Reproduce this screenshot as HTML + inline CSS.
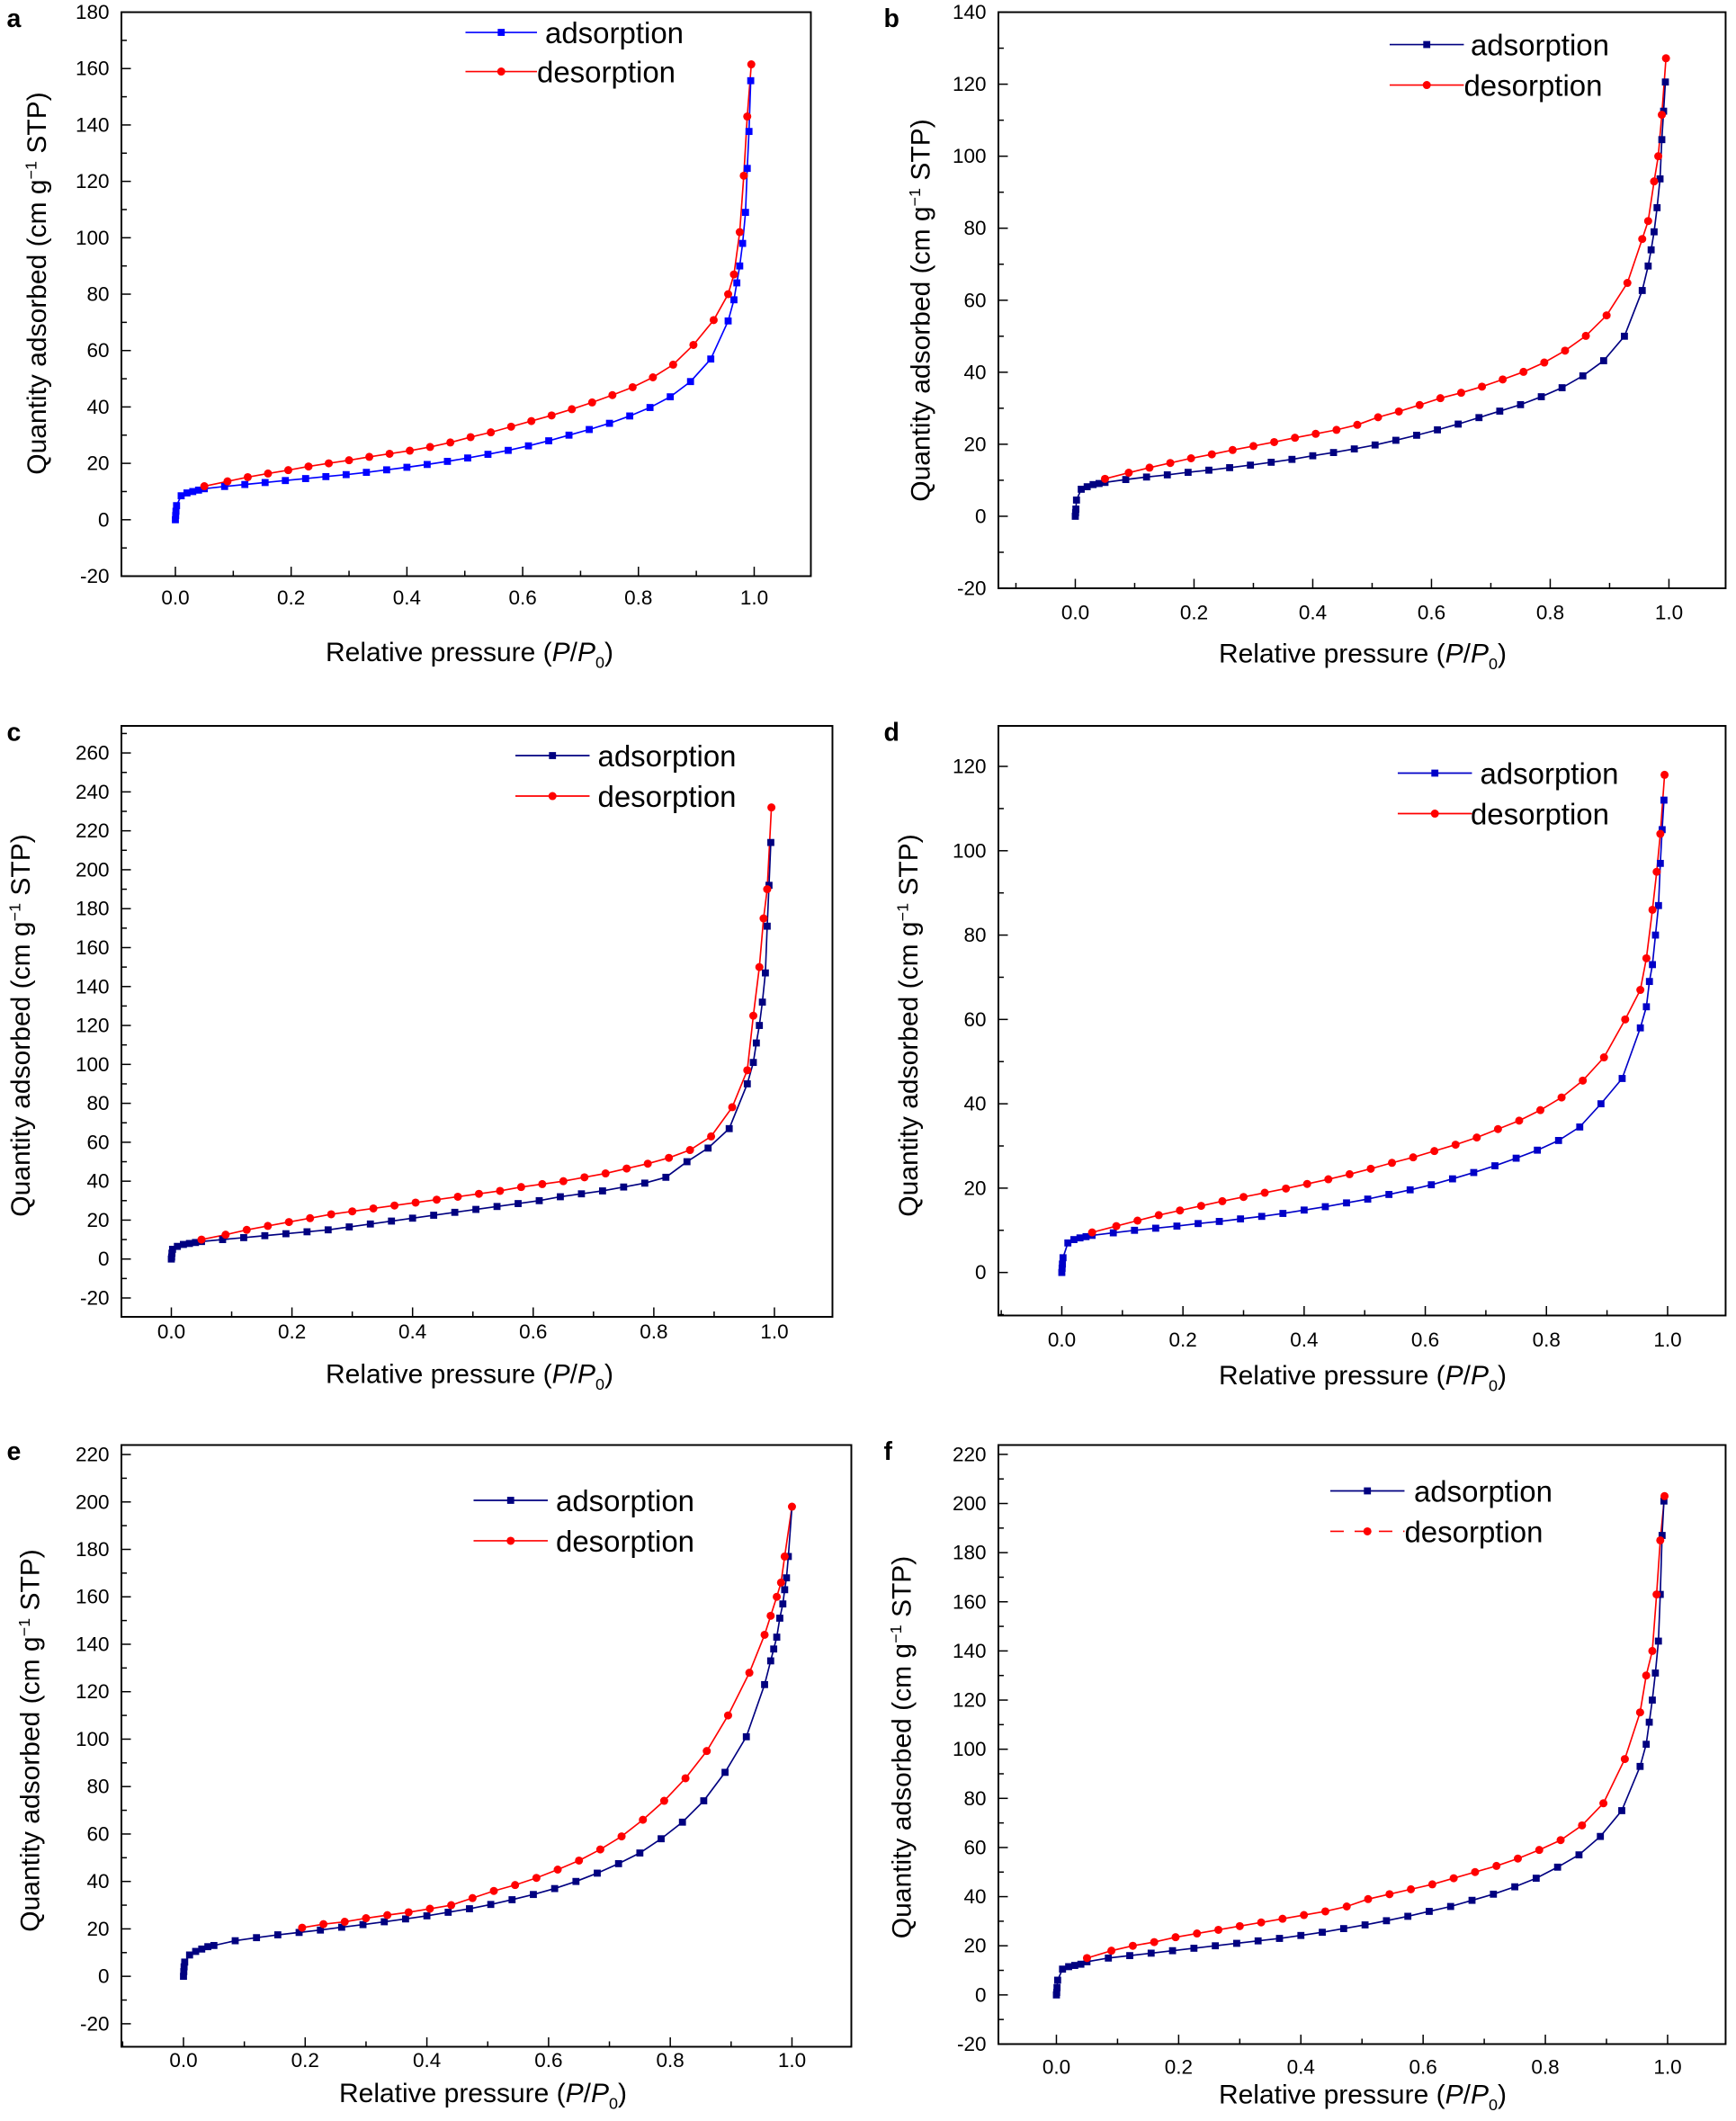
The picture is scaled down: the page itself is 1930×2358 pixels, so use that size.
<!DOCTYPE html>
<html><head><meta charset="utf-8">
<style>
html,body{margin:0;padding:0;background:#fff;}
svg{display:block;font-family:"Liberation Sans",Arial,sans-serif;}
</style></head>
<body>
<svg id="fig" width="1930" height="2358" viewBox="0 0 1286.7 1572" xmlns="http://www.w3.org/2000/svg"></svg>
<script>
const adsX = [0,0.0005,0.001,0.002,0.01,0.02,0.03,0.04,0.05,0.085,0.12,0.155,0.19,0.225,0.26,0.295,0.33,0.365,0.40,0.435,0.47,0.505,0.54,0.575,0.61,0.645,0.68,0.715,0.75,0.785,0.82,0.855,0.89,0.925,0.955,0.965,0.97,0.975,0.98,0.985,0.988,0.991,0.994];
const desX = [0.995,0.988,0.982,0.975,0.965,0.955,0.93,0.895,0.86,0.825,0.79,0.755,0.72,0.685,0.65,0.615,0.58,0.545,0.51,0.475,0.44,0.405,0.37,0.335,0.30,0.265,0.23,0.195,0.16,0.125,0.09,0.05];
const xTicks = [0,0.2,0.4,0.6,0.8,1.0];
const xTickLabels = ["0.0","0.2","0.4","0.6","0.8","1.0"];

const adsA = [0,1.5,3,5,8.5,9.5,10,10.5,11,11.8,12.5,13.2,13.9,14.6,15.3,16,16.8,17.7,18.6,19.6,20.7,21.9,23.2,24.6,26.2,28,30,32,34.2,36.8,39.8,43.6,49,57,70.5,78,84,90,98,109,124.6,137.7,155.7];
const desA = [161.5,143,122,102,87,80,70.8,62,55,50.5,47,44.2,41.6,39.2,37,35,33,31,29.3,27.4,25.8,24.5,23.4,22.3,21.1,20,18.9,17.6,16.4,15.1,13.6,11.9];
const adsB = [0,1,2,4.5,7.5,8.2,8.8,9.1,9.4,10.2,10.9,11.5,12.2,12.8,13.5,14.2,15,15.8,16.8,17.7,18.7,19.8,21.1,22.5,24,25.6,27.4,29.2,31,33.2,35.7,39,43.2,50,62.7,69.5,74,79,85.7,93.7,104.6,112.5,120.6];
const desB = [127.2,111.5,100,93,82,77,64.8,55.8,50.1,46,42.7,40.1,38,36,34.3,32.8,30.9,29.1,27.5,25.4,24,22.9,21.8,20.6,19.5,18.4,17.2,16.1,14.8,13.5,12.1,10.4];
const adsC = [0,1,3,5,6.5,7.5,8,8.5,9,10,11,12,13,14,15,16.5,18,19.5,21,22.5,24,25.5,27,28.5,30,32,33.5,35,37,39,42,50,57,67,90,101,111,120,132,147,171,192,214];
const desC = [232,190,175,150,125,97,78,63,56,52,49,46.5,44,42,40,38.5,37,35,33.5,32,30.5,29,27.5,26,24.5,23,21,19,17,15,12.5,10];
const adsD = [0,1,2,3.5,7,7.8,8.2,8.5,8.8,9.4,10,10.5,11,11.6,12.1,12.7,13.3,14,14.8,15.6,16.5,17.4,18.5,19.6,20.8,22.2,23.7,25.3,27.1,29,31.3,34.5,40,46,58,63,69,73,80,87,97,105,112];
const desD = [118,104,95,86,74.5,67,60,51,45.5,41.5,38.5,36,34,32,30.3,28.8,27.3,26,24.6,23.3,22.1,21,19.9,18.9,17.9,16.9,15.8,14.7,13.6,12.3,11,9.5];
const adsE = [0,2,4,6,9,10.5,11.5,12.5,13,15,16.3,17.5,18.5,19.5,20.7,21.8,23,24.2,25.5,27,28.5,30.3,32.3,34.5,37,40,43.5,47.5,52,58,65,74,86,101,123,133,138,143,151,157,163,168,177];
const desE = [198,177,166,160,152,144,128,110,95,83.5,74,66,59,53.5,48.8,45,41.5,38.5,36,33,30,28.5,27,25.8,24.5,23,22,20.5];
const adsF = [0,1,3,6,10.5,11.5,12,12.5,13.5,15,16,17,18,19,20,21,22,23,24.2,25.5,27,28.5,30.2,32,34,36,38.5,41,44,47.5,52,57,64.5,75,93,102,111,120,131,144,163,187,201];
const desF = [203,185,163,140,130,115,96,78,69,63,59,55.5,52.5,50,47.5,45,43,41,39,36,34,32.5,31,29.5,28,26.5,25,23.5,21.5,20,18,15];

const yTicksA = [-20,0,20,40,60,80,100,120,140,160,180];
const yTicksB = [-20,0,20,40,60,80,100,120,140];
const yTicksC = [-20,0,20,40,60,80,100,120,140,160,180,200,220,240,260];
const yTicksD = [0,20,40,60,80,100,120];
const yTicksE = [-20,0,20,40,60,80,100,120,140,160,180,200,220];
const yTicksF = [-20,0,20,40,60,80,100,120,140,160,180,200,220];

const NS = "http://www.w3.org/2000/svg";
const svg = document.getElementById('fig');
function mk(tag, attrs, parent){const e=document.createElementNS(NS,tag);for(const k in attrs)e.setAttribute(k,attrs[k]);(parent||svg).appendChild(e);return e;}

const panels = [
 {id:'a',L:90,R:601,T:9,B:427,ymin:-20,ymax:180,x0px:130,x1px:559,ads:adsA,des:desA,yt:yTicksA,ac:'#0000ff',
  tickY:443,xlY:484,xlX:348,ylX:27,ylY:210,lg:[345,398,24,404,53,398]},
 {id:'b',L:740,R:1279,T:9,B:436,ymin:-20,ymax:140,x0px:797,x1px:1237,ads:adsB,des:desB,yt:yTicksB,ac:'#000080',
  tickY:454,xlY:485,xlX:1010,ylX:682,ylY:230,lg:[1030,1085,33,1090,63,1085]},
 {id:'c',L:90,R:617,T:538,B:976,ymin:-29.7,ymax:273.9,x0px:127,x1px:574,ads:adsC,des:desC,yt:yTicksC,ac:'#000080',
  tickY:987,xlY:1019,xlX:348,ylX:15,ylY:760,lg:[382,437,560,443,590,443]},
 {id:'d',L:740,R:1279,T:538,B:975,ymin:-10.2,ymax:129.6,x0px:787,x1px:1236,ads:adsD,des:desD,yt:yTicksD,ac:'#0000c8',
  tickY:993,xlY:1020,xlX:1010,ylX:673,ylY:760,lg:[1036,1091,573,1097,603,1090]},
 {id:'e',L:90,R:631,T:1071,B:1517,ymin:-29.7,ymax:224,x0px:136,x1px:587,ads:adsE,des:desE,yt:yTicksE,ac:'#000080',
  tickY:1527,xlY:1552,xlX:358,ylX:22,ylY:1290,lg:[351,406,1112,412,1142,412]},
 {id:'f',L:740,R:1279,T:1071,B:1515,ymin:-20,ymax:223.8,x0px:783,x1px:1236,ads:adsF,des:desF,yt:yTicksF,ac:'#000080',
  tickY:1532,xlY:1553,xlX:1010,ylX:668,ylY:1295,lg:[986,1041,1105,1048,1135,1041]}
];

panels.forEach(p=>{
  const g = mk('g',{});
  
  
  const sx = v => p.x0px + (p.x1px-p.x0px)*v;
  const sy = v => p.B - (v-p.ymin)/(p.ymax-p.ymin)*(p.B-p.T);
  const letter = mk('text',{x:p.L-85,y:p.T+11,'font-size':19,'font-weight':'bold'},g);
  letter.textContent = p.id;
  
  
  const frame = mk('rect',{x:p.L,y:p.T,width:p.R-p.L,height:p.B-p.T,fill:'none',stroke:'#000','stroke-width':1.3},g);
  
  
  const step = p.yt[1]-p.yt[0];
  p.yt.forEach(v=>{
    const y=sy(v);
    mk('line',{x1:p.L,x2:p.L+7,y1:y,y2:y,stroke:'#000','stroke-width':1},g);
    const t=mk('text',{x:p.L-9,y:y+5,'font-size':15,'text-anchor':'end'},g);
    t.textContent=v;
    
    
    const m=v+step/2;
    if(sy(m)>p.T) mk('line',{x1:p.L,x2:p.L+4,y1:sy(m),y2:sy(m),stroke:'#000','stroke-width':1},g);
  });
  const mlow=p.yt[0]-step/2; if(sy(mlow)<p.B) mk('line',{x1:p.L,x2:p.L+4,y1:sy(mlow),y2:sy(mlow),stroke:'#000','stroke-width':1},g);
  xTicks.forEach((v,i)=>{
    const x=sx(v);
    mk('line',{x1:x,x2:x,y1:p.B,y2:p.B-7,stroke:'#000','stroke-width':1},g);
    const t=mk('text',{x:x,y:p.tickY+5,'font-size':15,'text-anchor':'middle'},g);
    t.textContent=xTickLabels[i];
    
    
  });
  for(let v=-0.1; v<1.15; v+=0.2){const x=sx(v); if(x>p.L&&x<p.R) mk('line',{x1:x,x2:x,y1:p.B,y2:p.B-4,stroke:'#000','stroke-width':1},g);}
  const xl=mk('text',{x:p.xlX,y:p.xlY+6,'font-size':20,'text-anchor':'middle'},g);
  xl.innerHTML='Relative pressure (<tspan font-style="italic">P</tspan>/<tspan font-style="italic">P</tspan><tspan font-size="12" dy="5">0</tspan><tspan dy="-5">)</tspan>';
  
  
  const yl=mk('text',{x:0,y:0,'font-size':20,'text-anchor':'middle',transform:`translate(${p.ylX+7},${p.ylY}) rotate(-90)`},g);
  yl.innerHTML='Quantity adsorbed (cm g<tspan font-size="12" dy="-7">−1</tspan><tspan dy="7"> STP)</tspan>';
  
  
  const desXs = desX.slice(0,p.des.length);
  const desXe = p.id==='e' ? desXs.map((v,i)=>i===0?1.0:v) : desXs;
  const adsPts = p.ads.map((v,i)=>sx(adsX[i])+','+sy(v)).join(' ');
  const desPts = p.des.map((v,i)=>sx(desXe[i])+','+sy(v)).join(' ');
  const dl=mk('polyline',{points:desPts,fill:'none',stroke:'#ff0000','stroke-width':1.1},g);
  
  
  const al=mk('polyline',{points:adsPts + (p.id==='e' ? ' '+sx(1.0)+','+sy(desE[0]) : ''),fill:'none',stroke:p.ac,'stroke-width':1.1},g);
  
  
  p.ads.forEach((v,i)=>{
    const r=mk('rect',{x:sx(adsX[i])-2.6,y:sy(v)-2.6,width:5.2,height:5.2,fill:p.ac},g);
    
    
  });
  p.des.forEach((v,i)=>{
    const c=mk('circle',{cx:sx(desXe[i]),cy:sy(v),r:3,fill:'#ff0000'},g);
    
    
  });
  const [lx1,lx2,ly1,tx1,ly2,tx2]=p.lg;
  const lg=mk('g',{},g);
  
  
  mk('line',{x1:lx1,x2:lx2,y1:ly1,y2:ly1,stroke:p.ac,'stroke-width':1.1},lg);
  mk('rect',{x:(lx1+lx2)/2-2.6,y:ly1-2.6,width:5.2,height:5.2,fill:p.ac},lg);
  const t1=mk('text',{x:tx1,y:ly1+8,'font-size':22},lg);
  t1.textContent='adsorption';
  
  
  mk('line',{x1:lx1,x2:lx2,y1:ly2,y2:ly2,stroke:'#ff0000','stroke-width':1.1,'stroke-dasharray':p.id==='f'?'10,8':'none'},lg);
  mk('circle',{cx:(lx1+lx2)/2,cy:ly2,r:3,fill:'#ff0000'},lg);
  const t2=mk('text',{x:tx2,y:ly2+8,'font-size':22},lg);
  t2.textContent='desorption';
  
  
});
</script>
</body></html>
